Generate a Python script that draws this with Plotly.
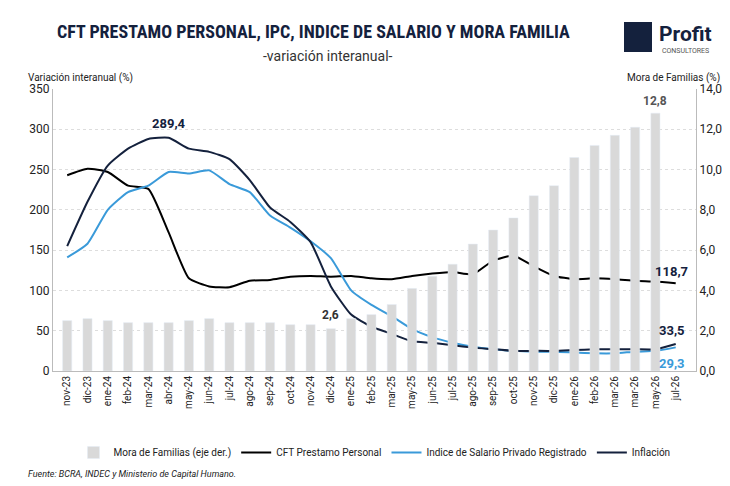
import plotly.graph_objects as go

meses = ["nov-23", "dic-23", "ene-24", "feb-24", "mar-24", "abr-24", "may-24", "jun-24",
         "jul-24", "ago-24", "sep-24", "oct-24", "nov-24", "dic-24", "ene-25", "feb-25",
         "mar-25", "may-25", "jun-25", "jul-25", "ago-25", "sep-25", "oct-25", "nov-25",
         "dic-25", "ene-26", "feb-26", "mar-26", "mar-26", "may-26", "jul-26"]
mora = [2.5, 2.6, 2.5, 2.4, 2.4, 2.4, 2.5, 2.6, 2.4, 2.4, 2.4, 2.3, 2.3, 2.1, 2.6, 2.8,
        3.3, 4.1, 4.7, 5.3, 6.3, 7.0, 7.6, 8.7, 9.2, 10.6, 11.2, 11.7, 12.1, 12.8, None]
cft = [243, 251, 247, 230, 226, 172, 115, 105, 104, 112, 113, 117, 118, 117, 118, 115,
       114, 118, 121, 123, 120, 137, 143, 130, 118, 114, 115, 114, 112, 111, 109]
salario = [141, 158, 200, 222, 230, 247, 245, 249, 232, 222, 193, 178, 161, 140, 100, 82,
           68, 52, 42, 35, 30, 27, 25, 24, 24, 23, 22, 22, 24, 25, 29.3]
inflacion = [155, 210, 255, 276, 288, 289.4, 276, 272, 263, 237, 203, 185, 160, 105, 70, 55,
             46, 37, 35, 32, 29, 27, 25, 25, 25, 26, 27, 27, 27, 27, 33.5]

x = list(range(len(meses)))
NAVY = "#14213d"
BLUE = "#3a9ad9"

W, H = 730, 486
pl, pr, pt, pb = 45, 42, 81, 123
pw, ph = W - pl - pr, H - pt - pb


def px(v):
    return (v - pl) / pw


def py(v):
    # v measured from top of picture
    return (H - v - pb) / ph


fig = go.Figure()
fig.add_trace(go.Bar(x=x, y=mora, yaxis="y2", name="Mora de Familias (eje der.)",
                     marker_color="#d9d9d9", width=0.45))
fig.add_trace(go.Scatter(x=x, y=cft, name="CFT Prestamo Personal", mode="lines",
                         line=dict(color="black", width=2, shape="spline", smoothing=0.5)))
fig.add_trace(go.Scatter(x=x, y=salario, name="Indice de Salario Privado Registrado", mode="lines",
                         line=dict(color=BLUE, width=2, shape="spline", smoothing=0.5)))
fig.add_trace(go.Scatter(x=x, y=inflacion, name="Inflación", mode="lines",
                         line=dict(color=NAVY, width=2, shape="spline", smoothing=0.5)))

ann = [
    dict(x=5, y=inflacion[5], text="<b>289,4</b>", yshift=14, font=dict(color=NAVY, size=13)),
    dict(x=30, y=cft[30], text="<b>118,7</b>", yshift=12, xshift=-4, font=dict(color=NAVY, size=13)),
    dict(x=30, y=inflacion[30], text="<b>33,5</b>", yshift=14, xshift=-4, font=dict(color=NAVY, size=13)),
    dict(x=30, y=salario[30], text="<b>29,3</b>", yshift=-16, xshift=-4, font=dict(color=BLUE, size=13)),
    dict(x=29, y=mora[29], yref="y2", text="<b>12,8</b>", yshift=12, font=dict(color="#555", size=12)),
    dict(x=13, y=mora[13], yref="y2", text="<b>2,6</b>", yshift=14, font=dict(color="#333", size=12)),
]
for a in ann:
    a.setdefault("yref", "y")
    fig.add_annotation(xref="x", showarrow=False, **a)

texts = [
    dict(x=305, y=24, text="<b>CFT PRESTAMO PERSONAL, IPC, INDICE DE SALARIO Y MORA FAMILIA</b>",
         xanchor="center", font=dict(size=18, color=NAVY, family="Roboto Condensed, Liberation Sans Narrow, Roboto")),
    dict(x=320, y=48, text="-variación interanual-", xanchor="center", font=dict(size=14, color="#333")),
    dict(x=18, y=70, text="Variación interanual (%)", xanchor="left", font=dict(size=10, color="#222")),
    dict(x=714, y=70, text="Mora de Familias (%)", xanchor="right", font=dict(size=10, color="#222")),
    dict(x=18, y=466, text="<i>Fuente: BCRA, INDEC y Ministerio de Capital Humano.</i>",
         xanchor="left", font=dict(size=9, color="#222")),
    dict(x=649, y=26, text="<b>Profit</b>", xanchor="left", font=dict(size=21, color=NAVY)),
    dict(x=652, y=43, text="CONSULTORES", xanchor="left", font=dict(size=7, color="#555")),
]
for t in texts:
    t["x"] = px(t["x"])
    t["y"] = py(t["y"])
    fig.add_annotation(xref="paper", yref="paper", yanchor="middle", showarrow=False, **t)

fig.add_shape(type="rect", xref="paper", yref="paper", x0=px(616), x1=px(644), y0=py(44), y1=py(14),
              fillcolor=NAVY, line_width=0)

fig.update_layout(
    width=W, height=H, plot_bgcolor="white", paper_bgcolor="white",
    margin=dict(l=pl, r=pr, t=pt, b=pb, autoexpand=False),
    font=dict(family="Roboto", color="#222"),
    xaxis=dict(tickmode="array", tickvals=x, ticktext=meses, tickangle=-90,
               tickfont=dict(size=10), range=[-0.7, 31], showgrid=False, zeroline=False,
               showline=True, linecolor="#bbb"),
    yaxis=dict(range=[0, 350], dtick=50, showgrid=True, gridcolor="#dddddd", griddash="dot",
               tickfont=dict(size=12), zeroline=False, showline=True, linecolor="#bbb"),
    yaxis2=dict(range=[0, 14], dtick=2, overlaying="y", side="right", showgrid=False,
                tickformat=".1f", tickfont=dict(size=12), showline=True, linecolor="#bbb"),
    separators=",.",
    legend=dict(orientation="h", x=0.5, xanchor="center", y=py(430), yanchor="top",
                font=dict(size=10), traceorder="normal"),
)
fig.write_html("out.html")
